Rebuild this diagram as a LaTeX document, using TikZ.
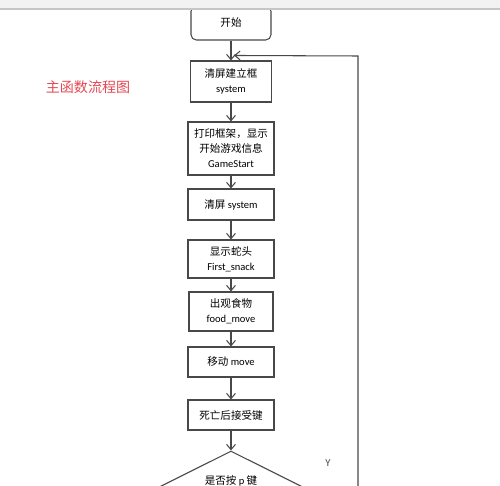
\documentclass[tikz,border=0pt]{standalone}
\usepackage{fontspec}
\setmainfont{Carlito}
\newfontfamily\cjk{Noto Sans CJK SC}
\usetikzlibrary{arrows.meta,shapes.geometric}
\definecolor{linegray}{RGB}{72,72,72}
\definecolor{titlered}{RGB}{228,72,82}

\begin{document}
\begin{tikzpicture}[x=0.02cm,y=-0.02cm]
  \tikzset{
    box/.style={draw=linegray,line width=0.6pt,fill=white,align=center,
      minimum width=1.72cm,inner sep=1pt,font=\fontsize{6}{8.5}\selectfont},
    startbox/.style={box,rounded corners=3pt,minimum width=1.6cm},
    decision/.style={draw=linegray,line width=0.6pt,diamond,shape aspect=2,
      minimum width=4.4cm,minimum height=2.2cm,inner sep=0pt},
    flow/.style={-{Straight Barb[length=3pt,width=5pt]},linegray,line width=0.6pt},
    txt/.style={font=\fontsize{6}{8}\selectfont,inner sep=1pt}
  }
  \useasboundingbox (0,0) rectangle (500,486);
  \clip (0,0) rectangle (500,486);

  \node[startbox,minimum height=0.68cm] (start) at (231,23) {\cjk 开始};
  \node[box,minimum width=1.62cm,minimum height=0.82cm] (clear) at (231,81.5)
    {{\cjk 清屏建立框}\\system};
  \node[box,minimum height=1.06cm] (frame) at (231,148.5)
    {{\cjk 打印框架，显示}\\{\cjk 开始游戏信息}\\GameStart};
  \node[box,minimum height=0.62cm] (clear2) at (231,204.5) {{\cjk 清屏} system};
  \node[box,minimum height=0.76cm] (head) at (231,259)
    {{\cjk 显示蛇头}\\First\_snack};
  \node[box,minimum width=1.68cm,minimum height=0.78cm] (food) at (231,311.5)
    {{\cjk 出观食物}\\food\_move};
  \node[box,minimum height=0.6cm] (move) at (231,362) {{\cjk 移动} move};
  \node[box,minimum height=0.6cm] (dead) at (231,415) {\cjk 死亡后接受键};
  \node[decision] (ask) at (231,506) {};
  \node[txt] (askt) at ([yshift=0.5cm]ask.center) {{\cjk 是否按} p {\cjk 键}};

  \node[font=\fontsize{8}{10}\selectfont\cjk,text=titlered] (title) at (88,87)
    {主函数流程图};
  \node[txt,text=linegray] (yes) at (328,463) {Y};

  \coordinate (corner) at (358,56);
  \coordinate (back) at ([xshift=0.06cm,yshift=0.1cm]clear.north);

  \draw[flow] (start) -- (clear);
  \draw[flow] (clear) -- (frame);
  \draw[flow] (frame) -- (clear2);
  \draw[flow] (clear2) -- (head);
  \draw[flow] (head) -- (food);
  \draw[flow] (food) -- (move);
  \draw[flow] (move) -- (dead);
  \draw[flow] (dead) -- (ask);
  \draw[flow] (ask.east) -| (corner) -- (back);

  \fill[gray!10] (0,0) rectangle (500,8);
  \draw[gray!45,line width=1pt] (0,9) -- (500,9);
\end{tikzpicture}
\end{document}
